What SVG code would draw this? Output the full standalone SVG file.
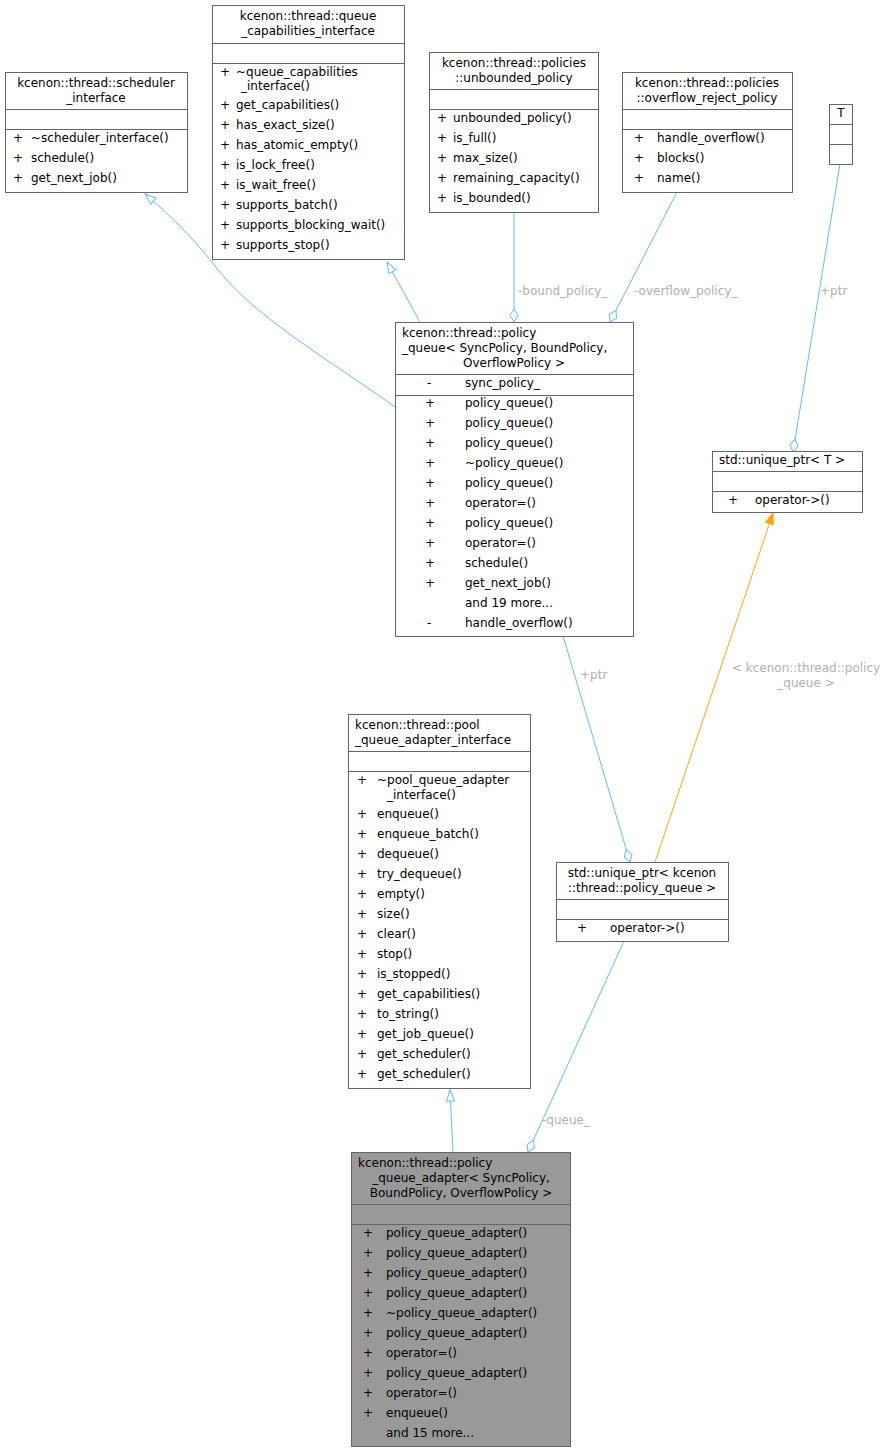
<svg xmlns="http://www.w3.org/2000/svg" width="893" height="1452" viewBox="0 0 893 1452">
<style>
text{font-family:"DejaVu Sans","Liberation Sans",sans-serif;font-size:12px;fill:#000}
.n{fill:#fff;stroke:#666;stroke-width:1}
.g{fill:#999;stroke:#666;stroke-width:1}
.d{stroke:#666;stroke-width:1}
.e{fill:none;stroke:#63b8ff;stroke-width:1}
.o{fill:none;stroke:#ffa500;stroke-width:1}
.l{fill:#b0b0b0}
.m{text-anchor:middle}
</style>
<defs>
<marker id="inh" markerWidth="14" markerHeight="12" refX="12" refY="5" orient="auto" markerUnits="userSpaceOnUse"><path d="M1,1 L12,5 L1,9 Z" fill="#fff" stroke="#63b8ff"/></marker>
<marker id="dia" markerWidth="16" markerHeight="10" refX="14" refY="5" orient="auto" markerUnits="userSpaceOnUse"><path d="M1,5 L7.5,1 L14,5 L7.5,9 Z" fill="#fff" stroke="#63b8ff"/></marker>
<marker id="tpl" markerWidth="14" markerHeight="12" refX="12" refY="5" orient="auto" markerUnits="userSpaceOnUse"><path d="M1,1 L12,5 L1,9 Z" fill="#ffa500" stroke="#ffa500"/></marker>
</defs>
<g id="edges">
<path class="e" d="M395,407 C330,360 250,315 212,262 C190,235 170,215 145,194" marker-end="url(#inh)"/>
<path class="e" d="M420,322 L387,262" marker-end="url(#inh)"/>
<path class="e" d="M514,212 L514,322" marker-end="url(#dia)"/>
<text class="l" x="518" y="295">-bound_policy_</text>
<path class="e" d="M677,192 L610,322" marker-end="url(#dia)"/>
<text class="l" x="634" y="295">-overflow_policy_</text>
<path class="e" d="M840,164 L793,452" marker-end="url(#dia)"/>
<text class="l" x="820" y="295">+ptr</text>
<path class="e" d="M563,636 L630,862" marker-end="url(#dia)"/>
<text class="l" x="580" y="679">+ptr</text>
<path class="o" d="M655,862 L773,513" marker-end="url(#tpl)"/>
<text class="l m" x="806" y="672">&lt; kcenon::thread::policy</text>
<text class="l m" x="806" y="687">_queue &gt;</text>
<path class="e" d="M453,1152 L450,1090" marker-end="url(#inh)"/>
<path class="e" d="M624,941 L528,1152" marker-end="url(#dia)"/>
<text class="l" x="542" y="1124">-queue_</text>
</g>
<g id="scheduler_interface">
<rect class="n" x="5.5" y="72.5" width="182" height="120"/>
<line class="d" x1="5.5" y1="109.5" x2="187.5" y2="109.5"/>
<line class="d" x1="5.5" y1="129.5" x2="187.5" y2="129.5"/>
<text class="m" x="96" y="87">kcenon::thread::scheduler</text>
<text class="m" x="96" y="102">_interface</text>
<text x="13" y="142">+</text><text x="31" y="142">~scheduler_interface()</text>
<text x="13" y="162">+</text><text x="31" y="162">schedule()</text>
<text x="13" y="182">+</text><text x="31" y="182">get_next_job()</text>
</g>
<g id="queue_capabilities_interface">
<rect class="n" x="212.5" y="5.5" width="192" height="254"/>
<line class="d" x1="212.5" y1="43.5" x2="404.5" y2="43.5"/>
<line class="d" x1="212.5" y1="63.5" x2="404.5" y2="63.5"/>
<text class="m" x="308" y="20">kcenon::thread::queue</text>
<text class="m" x="308" y="35">_capabilities_interface</text>
<text x="220" y="76">+</text><text x="236" y="76">~queue_capabilities</text>
<text x="241" y="90">_interface()</text>
<text x="220" y="109">+</text><text x="236" y="109">get_capabilities()</text>
<text x="220" y="129">+</text><text x="236" y="129">has_exact_size()</text>
<text x="220" y="149">+</text><text x="236" y="149">has_atomic_empty()</text>
<text x="220" y="169">+</text><text x="236" y="169">is_lock_free()</text>
<text x="220" y="189">+</text><text x="236" y="189">is_wait_free()</text>
<text x="220" y="209">+</text><text x="236" y="209">supports_batch()</text>
<text x="220" y="229">+</text><text x="236" y="229">supports_blocking_wait()</text>
<text x="220" y="249">+</text><text x="236" y="249">supports_stop()</text>
</g>
<g id="unbounded_policy">
<rect class="n" x="429.5" y="52.5" width="169" height="160"/>
<line class="d" x1="429.5" y1="89.5" x2="598.5" y2="89.5"/>
<line class="d" x1="429.5" y1="109.5" x2="598.5" y2="109.5"/>
<text class="m" x="514" y="67">kcenon::thread::policies</text>
<text class="m" x="514" y="82">::unbounded_policy</text>
<text x="437" y="122">+</text><text x="453" y="122">unbounded_policy()</text>
<text x="437" y="142">+</text><text x="453" y="142">is_full()</text>
<text x="437" y="162">+</text><text x="453" y="162">max_size()</text>
<text x="437" y="182">+</text><text x="453" y="182">remaining_capacity()</text>
<text x="437" y="202">+</text><text x="453" y="202">is_bounded()</text>
</g>
<g id="overflow_reject_policy">
<rect class="n" x="622.5" y="72.5" width="170" height="120"/>
<line class="d" x1="622.5" y1="109.5" x2="792.5" y2="109.5"/>
<line class="d" x1="622.5" y1="129.5" x2="792.5" y2="129.5"/>
<text class="m" x="707" y="87">kcenon::thread::policies</text>
<text class="m" x="707" y="102">::overflow_reject_policy</text>
<text x="634" y="142">+</text><text x="657" y="142">handle_overflow()</text>
<text x="634" y="162">+</text><text x="657" y="162">blocks()</text>
<text x="634" y="182">+</text><text x="657" y="182">name()</text>
</g>
<g id="T">
<rect class="n" x="829.5" y="104.5" width="23" height="60"/>
<line class="d" x1="829.5" y1="124.5" x2="852.5" y2="124.5"/>
<line class="d" x1="829.5" y1="144.5" x2="852.5" y2="144.5"/>
<text class="m" x="841" y="117">T</text>
</g>
<g id="policy_queue">
<rect class="n" x="395.5" y="322.5" width="238" height="314"/>
<line class="d" x1="395.5" y1="374.5" x2="633.5" y2="374.5"/>
<line class="d" x1="395.5" y1="395.5" x2="633.5" y2="395.5"/>
<text x="402" y="337">kcenon::thread::policy</text>
<text x="402" y="352">_queue&lt; SyncPolicy, BoundPolicy,</text>
<text class="m" x="514" y="367">OverflowPolicy &gt;</text>
<text x="427" y="387">-</text><text x="465" y="387">sync_policy_</text>
<text x="425" y="407">+</text><text x="465" y="407">policy_queue()</text>
<text x="425" y="427">+</text><text x="465" y="427">policy_queue()</text>
<text x="425" y="447">+</text><text x="465" y="447">policy_queue()</text>
<text x="425" y="467">+</text><text x="465" y="467">~policy_queue()</text>
<text x="425" y="487">+</text><text x="465" y="487">policy_queue()</text>
<text x="425" y="507">+</text><text x="465" y="507">operator=()</text>
<text x="425" y="527">+</text><text x="465" y="527">policy_queue()</text>
<text x="425" y="547">+</text><text x="465" y="547">operator=()</text>
<text x="425" y="567">+</text><text x="465" y="567">schedule()</text>
<text x="425" y="587">+</text><text x="465" y="587">get_next_job()</text>
<text x="465" y="607">and 19 more...</text>
<text x="427" y="627">-</text><text x="465" y="627">handle_overflow()</text>
</g>
<g id="unique_ptr_T">
<rect class="n" x="712.5" y="451.5" width="150" height="61"/>
<line class="d" x1="712.5" y1="471.5" x2="862.5" y2="471.5"/>
<line class="d" x1="712.5" y1="491.5" x2="862.5" y2="491.5"/>
<text x="719" y="464">std::unique_ptr&lt; T &gt;</text>
<text x="728" y="504">+</text><text x="755" y="504">operator-&gt;()</text>
</g>
<g id="pool_queue_adapter_interface">
<rect class="n" x="348.5" y="714.5" width="182" height="374"/>
<line class="d" x1="348.5" y1="751.5" x2="530.5" y2="751.5"/>
<line class="d" x1="348.5" y1="771.5" x2="530.5" y2="771.5"/>
<text x="355" y="729">kcenon::thread::pool</text>
<text x="355" y="744">_queue_adapter_interface</text>
<text x="357" y="784">+</text><text x="377" y="784">~pool_queue_adapter</text>
<text x="387" y="799">_interface()</text>
<text x="357" y="818">+</text><text x="377" y="818">enqueue()</text>
<text x="357" y="838">+</text><text x="377" y="838">enqueue_batch()</text>
<text x="357" y="858">+</text><text x="377" y="858">dequeue()</text>
<text x="357" y="878">+</text><text x="377" y="878">try_dequeue()</text>
<text x="357" y="898">+</text><text x="377" y="898">empty()</text>
<text x="357" y="918">+</text><text x="377" y="918">size()</text>
<text x="357" y="938">+</text><text x="377" y="938">clear()</text>
<text x="357" y="958">+</text><text x="377" y="958">stop()</text>
<text x="357" y="978">+</text><text x="377" y="978">is_stopped()</text>
<text x="357" y="998">+</text><text x="377" y="998">get_capabilities()</text>
<text x="357" y="1018">+</text><text x="377" y="1018">to_string()</text>
<text x="357" y="1038">+</text><text x="377" y="1038">get_job_queue()</text>
<text x="357" y="1058">+</text><text x="377" y="1058">get_scheduler()</text>
<text x="357" y="1078">+</text><text x="377" y="1078">get_scheduler()</text>
</g>
<g id="unique_ptr_policy_queue">
<rect class="n" x="556.5" y="862.5" width="172" height="79"/>
<line class="d" x1="556.5" y1="899.5" x2="728.5" y2="899.5"/>
<line class="d" x1="556.5" y1="919.5" x2="728.5" y2="919.5"/>
<text class="m" x="642" y="877">std::unique_ptr&lt; kcenon</text>
<text class="m" x="642" y="892">::thread::policy_queue &gt;</text>
<text x="577" y="932">+</text><text x="610" y="932">operator-&gt;()</text>
</g>
<g id="policy_queue_adapter">
<rect class="g" x="351.5" y="1152.5" width="219" height="294"/>
<line class="d" x1="351.5" y1="1204.5" x2="570.5" y2="1204.5"/>
<line class="d" x1="351.5" y1="1224.5" x2="570.5" y2="1224.5"/>
<text x="358" y="1167">kcenon::thread::policy</text>
<text class="m" x="461" y="1182">_queue_adapter&lt; SyncPolicy,</text>
<text class="m" x="461" y="1197">BoundPolicy, OverflowPolicy &gt;</text>
<text x="363" y="1237">+</text><text x="386" y="1237">policy_queue_adapter()</text>
<text x="363" y="1257">+</text><text x="386" y="1257">policy_queue_adapter()</text>
<text x="363" y="1277">+</text><text x="386" y="1277">policy_queue_adapter()</text>
<text x="363" y="1297">+</text><text x="386" y="1297">policy_queue_adapter()</text>
<text x="363" y="1317">+</text><text x="386" y="1317">~policy_queue_adapter()</text>
<text x="363" y="1337">+</text><text x="386" y="1337">policy_queue_adapter()</text>
<text x="363" y="1357">+</text><text x="386" y="1357">operator=()</text>
<text x="363" y="1377">+</text><text x="386" y="1377">policy_queue_adapter()</text>
<text x="363" y="1397">+</text><text x="386" y="1397">operator=()</text>
<text x="363" y="1417">+</text><text x="386" y="1417">enqueue()</text>
<text x="386" y="1437">and 15 more...</text>
</g>
</svg>
